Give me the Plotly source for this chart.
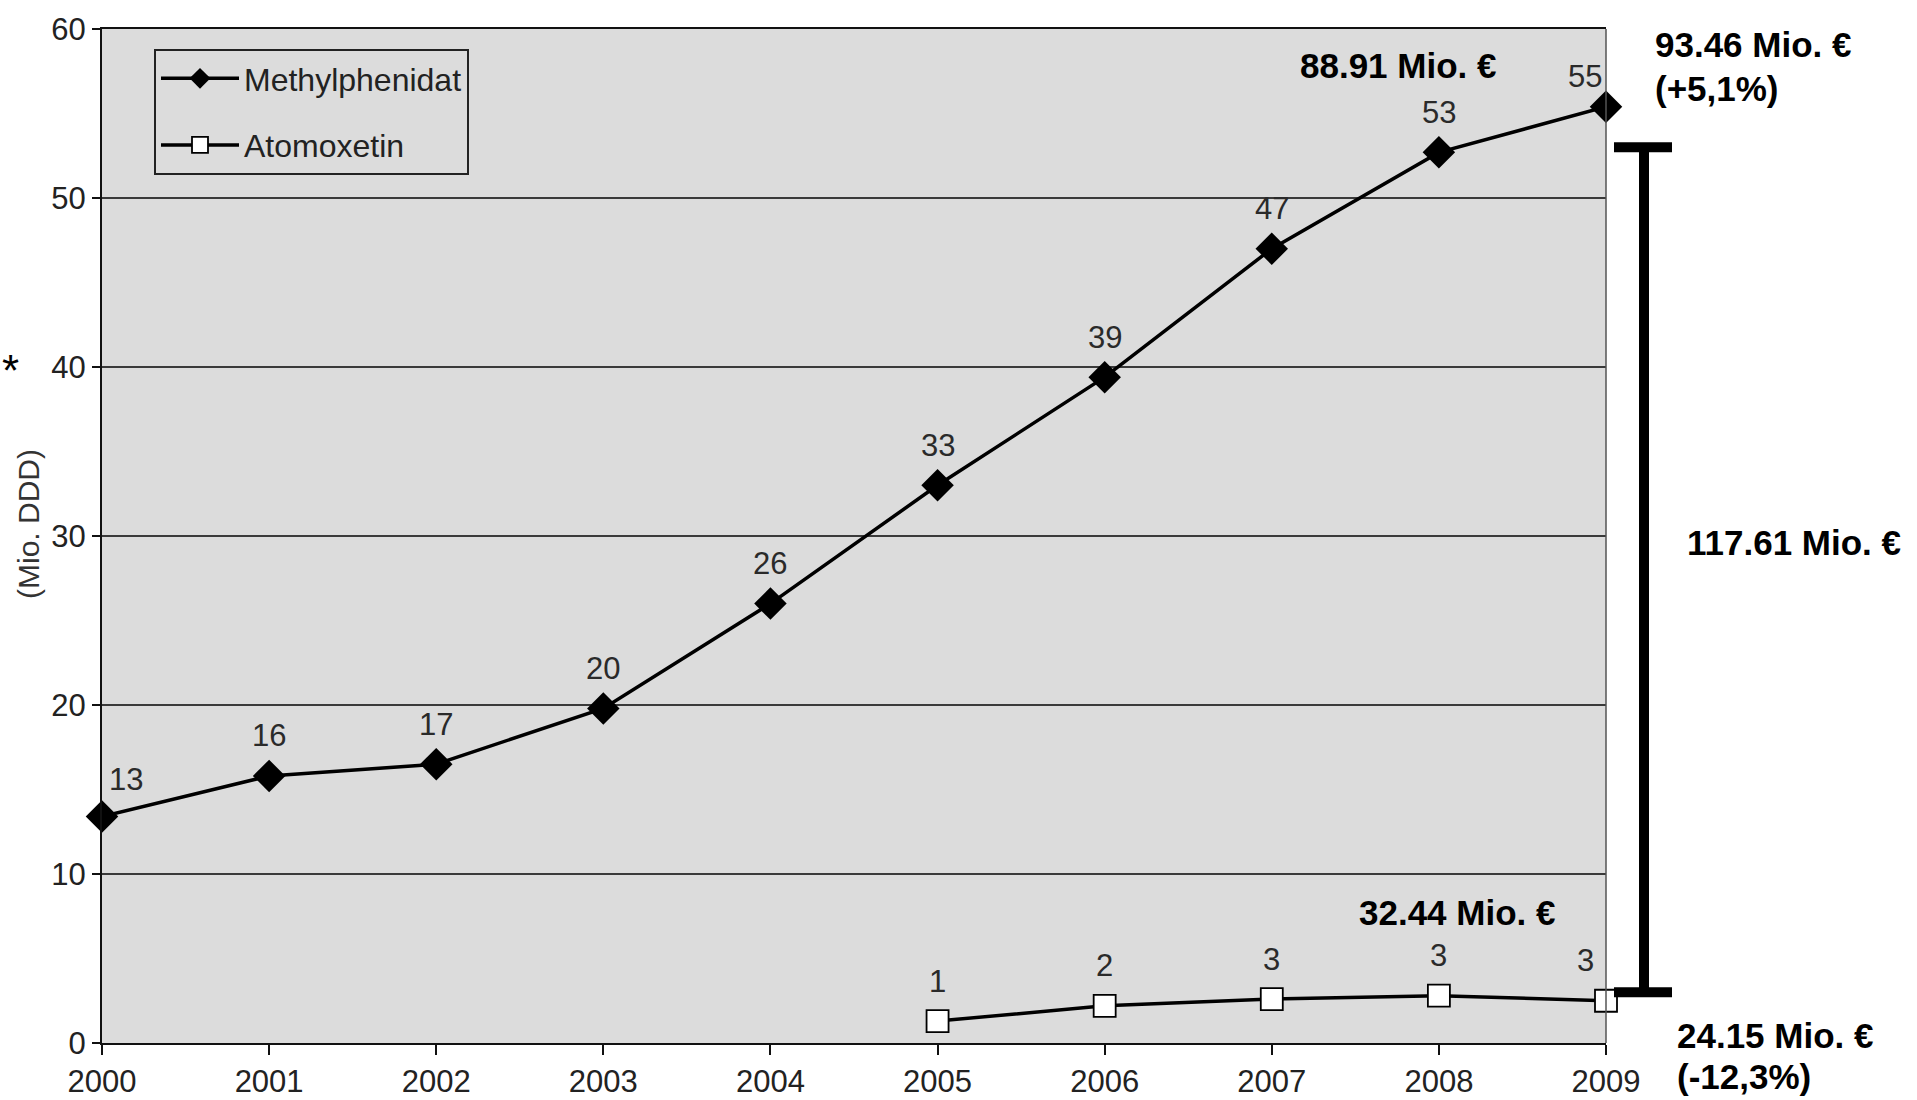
import plotly.graph_objects as go

# ---------------- data ----------------
years = [2000, 2001, 2002, 2003, 2004, 2005, 2006, 2007, 2008, 2009]
methylphenidat = [13.4, 15.8, 16.5, 19.8, 26.0, 33.0, 39.4, 47.0, 52.7, 55.4]
methylphenidat_labels = ["13", "16", "17", "20", "26", "33", "39", "47", "53", "55"]

atomoxetin_years = [2005, 2006, 2007, 2008, 2009]
atomoxetin = [1.3, 2.2, 2.6, 2.8, 2.5]
atomoxetin_labels = ["1", "2", "3", "3", "3"]

y_ticks = [0, 10, 20, 30, 40, 50, 60]
bracket_top = 53
bracket_bottom = 3

cost_texts = {
    "mp_2009": "93.46 Mio. €",
    "mp_2009_change": "(+5,1%)",
    "mp_2008": "88.91 Mio. €",
    "total": "117.61 Mio. €",
    "ato_2008": "32.44 Mio. €",
    "ato_2009": "24.15 Mio. €",
    "ato_2009_change": "(-12,3%)",
}

# ---------------- layout geometry ----------------
W, H = 1917, 1100
L, R, T, B = 102, 1606, 29, 1043
NARROW = "Liberation Sans Narrow, Arial Narrow, Liberation Sans, sans-serif"
BOLD = "Liberation Sans, Arial, sans-serif"


def px(xp):
    return (xp - L) / (R - L)


def py(yp):
    return (B - yp) / (B - T)


fig = go.Figure()

fig.add_trace(go.Scatter(
    x=years, y=methylphenidat, name="Methylphenidat", mode="lines+markers",
    line=dict(color="black", width=3.5),
    marker=dict(symbol="diamond", size=25, color="black", line=dict(color="black", width=0)),
    cliponaxis=False, legendgroup="a",
))
fig.add_trace(go.Scatter(
    x=atomoxetin_years, y=atomoxetin, name="Atomoxetin", mode="lines+markers",
    line=dict(color="black", width=3.5),
    marker=dict(symbol="square", size=22, color="white", line=dict(color="black", width=1.8)),
    cliponaxis=False, legendgroup="b",
))

annotations = []
label_font = dict(family=NARROW, size=31, color="#2a2a2a")


def add_labels(xs, ys, labels):
    n = len(xs)
    for i, (xv, yv, lab) in enumerate(zip(xs, ys, labels)):
        xs_, ys_ = 0, 40
        if xv == years[0]:
            xs_, ys_ = 24, 37
        if i == n - 1:
            xs_ = -21
        annotations.append(dict(
            x=xv, y=yv, xref="x", yref="y", text=lab, showarrow=False,
            xshift=xs_, yshift=ys_, font=label_font, xanchor="center", yanchor="middle",
        ))


add_labels(years, methylphenidat, methylphenidat_labels)
annotations[len(years) - 1]["yshift"] = 30
add_labels(atomoxetin_years, atomoxetin, atomoxetin_labels)

bold_font = dict(family=BOLD, size=35, color="black")
text_pos = [
    ("mp_2009", 1653, 45),
    ("mp_2009_change", 1653, 89),
    ("mp_2008", 1298, 66),
    ("total", 1685, 542),
    ("ato_2008", 1357, 912),
    ("ato_2009", 1675, 1035),
    ("ato_2009_change", 1675, 1076),
]
for key, xp, yp in text_pos:
    annotations.append(dict(
        x=px(xp), y=py(yp), xref="paper", yref="paper", text="<b>%s</b>" % cost_texts[key],
        showarrow=False, xanchor="left", yanchor="middle", font=bold_font,
    ))

# y-axis title and asterisk
annotations.append(dict(
    x=px(28), y=py(524), xref="paper", yref="paper", text="(Mio. DDD)", textangle=-90,
    showarrow=False, xanchor="center", yanchor="middle",
    font=dict(family=NARROW, size=30, color="#333333"),
))
annotations.append(dict(
    x=px(10), y=py(370), xref="paper", yref="paper", text="*",
    showarrow=False, xanchor="center", yanchor="middle",
    font=dict(family=BOLD, size=44, color="black"),
))

shapes = [
    # right border of plot
    dict(type="line", xref="paper", yref="paper", x0=1, x1=1, y0=0, y1=1,
         line=dict(color="#555555", width=1.5)),
    # bracket
    dict(type="line", xref="paper", yref="y", x0=px(1644), x1=px(1644), y0=bracket_bottom, y1=bracket_top,
         line=dict(color="black", width=10)),
    dict(type="line", xref="paper", yref="y", x0=px(1614), x1=px(1672), y0=bracket_top, y1=bracket_top,
         line=dict(color="black", width=10)),
    dict(type="line", xref="paper", yref="y", x0=px(1614), x1=px(1672), y0=bracket_bottom, y1=bracket_bottom,
         line=dict(color="black", width=10)),
]

fig.update_layout(
    width=W, height=H, autosize=False,
    margin=dict(l=L, r=W - R, t=T, b=H - B, pad=0, autoexpand=False),
    paper_bgcolor="white", plot_bgcolor="#dcdcdc",
    showlegend=True,
    legend=dict(
        x=px(154), y=py(49), xanchor="left", yanchor="top",
        bgcolor="#dcdcdc", bordercolor="#222222", borderwidth=2,
        font=dict(family=NARROW, size=32, color="#222222"),
        itemwidth=78, traceorder="grouped", tracegroupgap=22,
    ),
    annotations=annotations,
    shapes=shapes,
    xaxis=dict(
        range=[2000, 2009], tickmode="array", tickvals=years, ticktext=[str(y) for y in years],
        showgrid=False, zeroline=False, automargin=False,
        showline=True, linecolor="#111111", linewidth=2, mirror=True,
        ticks="outside", ticklen=10, tickwidth=1.5, tickcolor="#111111",
        tickfont=dict(family=NARROW, size=31, color="#222222"),
    ),
    yaxis=dict(
        range=[0, 60], tickmode="array", tickvals=y_ticks, automargin=False,
        showgrid=True, gridcolor="#3a3a3a", gridwidth=1.6, zeroline=False,
        showline=True, linecolor="#111111", linewidth=2,
        ticks="outside", ticklen=8, tickwidth=1.5, tickcolor="#111111",
        tickfont=dict(family=NARROW, size=31, color="#222222"),
    ),
)

fig.write_html(
    "out.html",
    config={"displayModeBar": False},
    post_script="document.body.style.margin='0';document.body.style.overflow='hidden';",
)
